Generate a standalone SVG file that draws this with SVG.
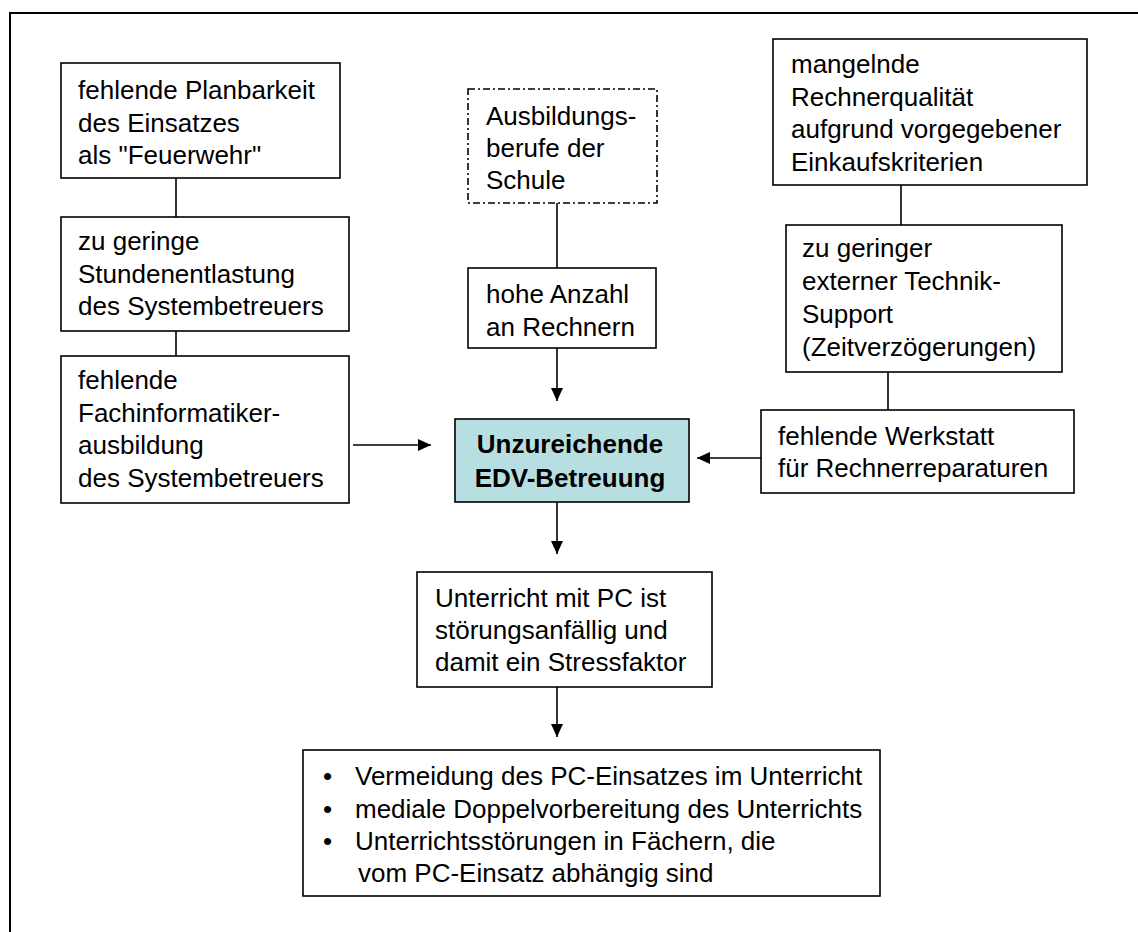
<svg xmlns="http://www.w3.org/2000/svg" width="1138" height="932" viewBox="0 0 1138 932">
<style>
.box{fill:#fff;stroke:#000;stroke-width:1.6}
.dash{fill:#fff;stroke:#000;stroke-width:1.6;stroke-dasharray:7 3 2 3}
.core{fill:#b7dfe2;stroke:#000;stroke-width:1.6}
.t{font-family:"Liberation Sans",Arial,sans-serif;font-size:26px;fill:#000}
.b{font-weight:bold;text-anchor:middle}
.ln{stroke:#000;stroke-width:1.6;fill:none}
</style>
<defs>
<marker id="arr" markerUnits="userSpaceOnUse" markerWidth="14" markerHeight="12" refX="13" refY="6" orient="auto">
<path d="M0,0 L13,6 L0,12 z" fill="#000"/>
</marker>
</defs>
<rect width="1138" height="932" fill="#fff"/>
<path d="M10,932 L10,13 L1138,13" fill="none" stroke="#000" stroke-width="2"/>
<g id="connectors">
<line class="ln" x1="176" y1="178" x2="176" y2="217"/>
<line class="ln" x1="176" y1="331" x2="176" y2="356"/>
<line class="ln" x1="557" y1="203" x2="557" y2="268"/>
<line class="ln" x1="557" y1="348" x2="557" y2="401" marker-end="url(#arr)"/>
<line class="ln" x1="353" y1="445" x2="431" y2="445" marker-end="url(#arr)"/>
<line class="ln" x1="761" y1="458" x2="697" y2="458" marker-end="url(#arr)"/>
<line class="ln" x1="901" y1="185" x2="901" y2="225"/>
<line class="ln" x1="888" y1="372" x2="888" y2="410"/>
<line class="ln" x1="557" y1="502" x2="557" y2="554" marker-end="url(#arr)"/>
<line class="ln" x1="557" y1="687" x2="557" y2="737" marker-end="url(#arr)"/>
</g>
<g id="n_planbarkeit">
<rect class="box" x="61" y="63" width="279" height="115"/>
<text class="t" x="78" y="99">fehlende Planbarkeit<tspan x="78" dy="32.5">des Einsatzes</tspan><tspan x="78" dy="32.5">als "Feuerwehr"</tspan></text>
</g>
<g id="n_stunden">
<rect class="box" x="61" y="217" width="288" height="114"/>
<text class="t" x="78" y="250">zu geringe<tspan x="78" dy="32.5">Stundenentlastung</tspan><tspan x="78" dy="32.5">des Systembetreuers</tspan></text>
</g>
<g id="n_fachinf">
<rect class="box" x="61" y="356" width="288" height="147"/>
<text class="t" x="78" y="389">fehlende<tspan x="78" dy="32.5">Fachinformatiker-</tspan><tspan x="78" dy="32.5">ausbildung</tspan><tspan x="78" dy="32.5">des Systembetreuers</tspan></text>
</g>
<g id="n_ausbildung">
<rect class="dash" x="468" y="89" width="189" height="114"/>
<text class="t" x="486" y="125">Ausbildungs-<tspan x="486" dy="32">berufe der</tspan><tspan x="486" dy="32">Schule</tspan></text>
</g>
<g id="n_anzahl">
<rect class="box" x="468" y="268" width="188" height="80"/>
<text class="t" x="486" y="303">hohe Anzahl<tspan x="486" dy="33">an Rechnern</tspan></text>
</g>
<g id="n_qualitaet">
<rect class="box" x="773" y="39" width="314" height="146"/>
<text class="t" x="791" y="73">mangelnde<tspan x="791" dy="32.5">Rechnerqualität</tspan><tspan x="791" dy="32.5">aufgrund vorgegebener</tspan><tspan x="791" dy="32.5">Einkaufskriterien</tspan></text>
</g>
<g id="n_support">
<rect class="box" x="786" y="225" width="276" height="147"/>
<text class="t" x="802" y="257">zu geringer<tspan x="802" dy="33">externer Technik-</tspan><tspan x="802" dy="33">Support</tspan><tspan x="802" dy="33">(Zeitverzögerungen)</tspan></text>
</g>
<g id="n_werkstatt">
<rect class="box" x="761" y="410" width="313" height="83"/>
<text class="t" x="778" y="445">fehlende Werkstatt<tspan x="778" dy="32">für Rechnerreparaturen</tspan></text>
</g>
<g id="n_edv">
<rect class="core" x="455" y="419" width="234" height="83"/>
<text class="t b" x="570" y="453">Unzureichende<tspan x="570" dy="34">EDV-Betreuung</tspan></text>
</g>
<g id="n_unterricht">
<rect class="box" x="417" y="572" width="295" height="115"/>
<text class="t" x="435" y="607">Unterricht mit PC ist<tspan x="435" dy="32">störungsanfällig und</tspan><tspan x="435" dy="32">damit ein Stressfaktor</tspan></text>
</g>
<g id="n_folgen">
<rect class="box" x="303" y="750" width="577" height="146"/>
<text class="t" x="323" y="785">•</text>
<text class="t" x="323" y="818">•</text>
<text class="t" x="323" y="850">•</text>
<text class="t" x="355" y="785">Vermeidung des PC-Einsatzes im Unterricht<tspan x="355" dy="33">mediale Doppelvorbereitung des Unterrichts</tspan><tspan x="355" dy="32">Unterrichtsstörungen in Fächern, die</tspan><tspan x="358" dy="32">vom PC-Einsatz abhängig sind</tspan></text>
</g>
</svg>
